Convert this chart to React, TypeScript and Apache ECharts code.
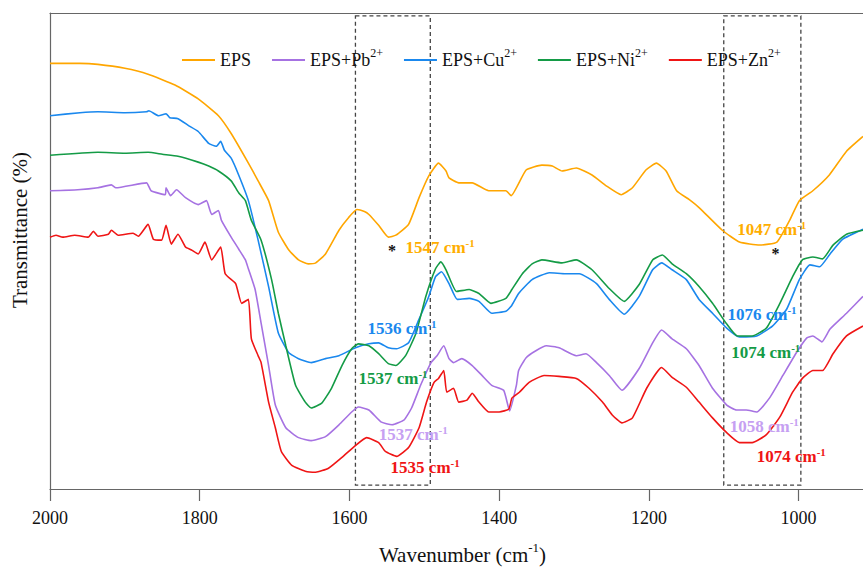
import React, { useEffect, useRef } from 'react';
import * as echarts from 'echarts';

// ---- data (wavenumber cm-1, transmittance in arbitrary offset units) ----
const SERIES_NAMES = ['EPS', 'EPS+Pb2+', 'EPS+Cu2+', 'EPS+Ni2+', 'EPS+Zn2+'];
const LEGEND_BASE = ['EPS', 'EPS+Pb', 'EPS+Cu', 'EPS+Ni', 'EPS+Zn'];
const LEGEND_SUP = ['', '2+', '2+', '2+', '2+'];
const COLORS = ['#FFA600', '#A672E2', '#1A88EE', '#149B46', '#EF1515'];
const LABEL_COLORS = ['#FFAE00', '#C6A0F2', '#1A88EE', '#149B46', '#EF1515'];
const X_TICKS = [2000, 1800, 1600, 1400, 1200, 1000];
const X_MIN = 914;
const X_MAX = 2000;
const Y_MIN = 0;
const Y_MAX = 482;
const BANDS = [[1592, 1492], [1100, 997]];
const BAND_T = [4, 479];

const EPS = [[2000,431],[1960,431],[1936,430],[1900,426],[1869,420],[1833,409],[1802,395],[1775,378],[1758,360],[1735,330],[1722,312],[1708,292],[1695,260],[1681,242],[1668,232],[1655,228],[1645,229],[1632,238],[1614,262],[1601,275],[1590,283],[1580,281],[1574,278],[1561,267],[1548,255],[1538,257],[1521,268],[1507,295],[1494,317],[1481,330],[1471,322],[1467,315],[1454,310],[1436,310],[1414,302],[1391,302],[1384,297],[1364,323],[1343,328],[1329,327],[1316,322],[1297,325],[1276,318],[1257,307],[1237,298],[1222,305],[1204,323],[1190,330],[1177,322],[1163,302],[1146,293],[1133,285],[1102,262],[1079,250],[1052,247],[1029,250],[1012,272],[999,292],[981,302],[959,318],[936,342],[914,357]];

const EPS_PB = [[2000,302],[1963,303],[1936,305],[1918,308],[1912,305],[1871,310],[1865,302],[1846,298],[1845,305],[1839,297],[1831,303],[1819,295],[1802,288],[1791,292],[1784,278],[1775,282],[1771,272],[1758,255],[1748,243],[1739,232],[1735,223],[1726,202],[1718,168],[1708,125],[1699,85],[1685,62],[1668,52],[1651,49],[1632,53],[1614,65],[1597,78],[1588,83],[1574,80],[1558,68],[1543,65],[1527,70],[1517,82],[1505,105],[1491,128],[1483,135],[1474,145],[1467,132],[1461,128],[1450,132],[1436,125],[1423,115],[1410,105],[1394,100],[1386,79],[1377,105],[1374,120],[1364,133],[1351,140],[1337,145],[1320,143],[1297,135],[1284,137],[1270,128],[1253,115],[1236,100],[1213,122],[1195,148],[1183,161],[1169,152],[1150,142],[1133,125],[1115,102],[1096,85],[1083,80],[1070,80],[1056,78],[1039,92],[1021,115],[1003,138],[989,153],[981,155],[969,149],[958,162],[936,178],[914,195]];

const EPS_CU = [[2000,378],[1960,381],[1936,382],[1900,381],[1871,382],[1868,383],[1855,378],[1845,380],[1840,376],[1829,375],[1815,368],[1802,362],[1788,350],[1778,347],[1772,352],[1767,343],[1758,335],[1748,318],[1735,292],[1722,252],[1708,205],[1695,158],[1681,138],[1668,132],[1651,128],[1632,132],[1614,135],[1592,143],[1574,147],[1561,148],[1548,143],[1537,142],[1521,148],[1507,172],[1494,195],[1485,215],[1477,220],[1467,208],[1456,192],[1440,193],[1427,190],[1410,178],[1391,180],[1384,185],[1374,198],[1356,212],[1333,219],[1311,218],[1293,218],[1270,208],[1253,192],[1233,177],[1213,195],[1195,222],[1183,229],[1169,222],[1150,212],[1133,192],[1115,178],[1096,163],[1079,154],[1056,155],[1035,165],[1016,182],[999,212],[985,227],[972,225],[958,238],[941,253],[914,263]];

const EPS_NI = [[2000,338],[1936,341],[1900,340],[1869,341],[1850,339],[1829,337],[1802,331],[1788,327],[1775,322],[1758,312],[1748,300],[1739,292],[1731,272],[1718,252],[1704,212],[1695,178],[1685,145],[1672,105],[1659,88],[1651,82],[1637,87],[1624,102],[1610,125],[1597,142],[1588,147],[1574,145],[1561,137],[1548,127],[1538,125],[1525,135],[1511,158],[1498,195],[1485,223],[1478,230],[1471,222],[1457,200],[1440,202],[1427,198],[1411,188],[1391,193],[1383,202],[1369,218],[1356,228],[1343,232],[1316,229],[1297,232],[1276,222],[1253,203],[1233,190],[1213,207],[1195,232],[1182,237],[1169,228],[1150,218],[1133,205],[1115,188],[1096,167],[1082,155],[1062,155],[1043,163],[1025,188],[1008,215],[995,232],[981,235],[968,233],[954,247],[936,258],[914,262]];

const EPS_ZN = [[2000,255],[1992,257],[1983,255],[1967,257],[1949,255],[1942,261],[1936,256],[1922,258],[1918,262],[1909,257],[1889,259],[1882,256],[1869,268],[1862,253],[1851,252],[1845,267],[1838,248],[1829,258],[1819,245],[1811,242],[1802,238],[1793,250],[1784,232],[1772,245],[1766,218],[1752,208],[1744,188],[1735,192],[1731,152],[1722,135],[1718,128],[1708,88],[1699,62],[1691,38],[1677,24],[1659,18],[1645,17],[1628,21],[1610,32],[1592,44],[1577,52],[1561,47],[1552,38],[1537,33],[1521,42],[1507,62],[1497,88],[1487,108],[1481,112],[1474,120],[1470,98],[1461,102],[1454,88],[1443,90],[1436,97],[1427,88],[1414,78],[1400,78],[1387,81],[1383,92],[1373,98],[1360,108],[1340,115],[1320,114],[1297,112],[1280,102],[1262,88],[1249,75],[1236,67],[1222,72],[1203,102],[1183,123],[1169,113],[1150,103],[1133,88],[1115,72],[1096,57],[1079,47],[1062,47],[1043,55],[1025,73],[1008,98],[995,112],[981,120],[968,120],[954,137],[936,155],[914,165]];

const SERIES_DATA = [EPS, EPS_PB, EPS_CU, EPS_NI, EPS_ZN];

// peak annotations: series index, anchor (left edge of label), wavenumber text
const PEAK_SERIES = [0, 0, 2, 3, 1, 4, 2, 3, 1, 4];
const PEAK_WN = [1525, 1082, 1576, 1588, 1561, 1545, 1095, 1090, 1092, 1056];
const PEAK_T = [245, 263, 163, 112, 55, 22, 177, 138, 63, 33];
const PEAK_TEXT = ['1547', '1047', '1536', '1537', '1537', '1535', '1076', '1074', '1058', '1074'];
const STAR_WN = [1543, 1031];
const STAR_T = [242, 238];

const FONT = "'Liberation Serif', 'Times New Roman', serif";

export default function App() {
  const ref = useRef<HTMLDivElement>(null);
  useEffect(() => {
    if (!ref.current) return;
    const chart = echarts.init(ref.current, null, { renderer: 'svg' });

    const series: any[] = SERIES_NAMES.map((name, i) => {
      const peaks = PEAK_SERIES.map((s, k) => ({ s, k })).filter((p) => p.s === i).map(({ k }) => ({
        coord: [PEAK_WN[k], PEAK_T[k]],
        label: {
          show: true,
          position: 'inside',
          align: 'left',
          verticalAlign: 'middle',
          formatter: PEAK_TEXT[k] + ' cm{sup|-1}',
          color: LABEL_COLORS[i],
          fontFamily: FONT,
          fontWeight: 'bold',
          fontSize: 17,
          rich: {
            sup: { fontSize: 11, fontWeight: 'bold', fontFamily: FONT, color: LABEL_COLORS[i], padding: [0, 0, 9, 0] },
          },
        },
      }));
      const stars = i === 0 ? STAR_WN.map((w, k) => ({
        coord: [w, STAR_T[k]],
        label: { show: true, position: 'inside', formatter: '*', color: '#111', fontSize: 16, fontFamily: FONT, fontWeight: 'bold' },
      })) : [];
      const s: any = {
        name,
        type: 'line',
        data: SERIES_DATA[i],
        symbol: 'none',
        smooth: 0.15,
        lineStyle: { color: COLORS[i], width: 1.6 },
        itemStyle: { color: COLORS[i] },
        z: 2 + i,
        markPoint: {
          symbol: 'rect',
          symbolSize: 1,
          itemStyle: { color: 'rgba(0,0,0,0)' },
          data: [...peaks, ...stars],
          z: 10,
        },
      };
      if (i === 0) {
        s.markArea = {
          silent: true,
          itemStyle: { color: 'rgba(0,0,0,0)', borderColor: '#444', borderWidth: 1.3, borderType: [4, 3] },
          data: BANDS.map((b) => [
            { xAxis: b[0], yAxis: BAND_T[1] },
            { xAxis: b[1], yAxis: BAND_T[0] },
          ]),
        };
      }
      return s;
    });

    const option: any = {
      animation: false,
      backgroundColor: '#fff',
      grid: { left: 50, right: 0, top: 13, bottom: 75, containLabel: false },
      legend: {
        data: SERIES_NAMES.map((n) => ({ name: n, icon: 'rect' })),
        left: 177,
        top: 42,
        itemWidth: 33,
        itemHeight: 2,
        itemGap: 21,
        formatter: (name: string) => {
          const i = SERIES_NAMES.indexOf(name);
          return LEGEND_SUP[i] ? LEGEND_BASE[i] + '{sup|' + LEGEND_SUP[i] + '}' : LEGEND_BASE[i];
        },
        textStyle: {
          fontFamily: FONT,
          fontSize: 18,
          color: '#111',
          rich: {
            sup: { fontFamily: FONT, fontSize: 12, color: '#111', padding: [0, 0, 14, 0] },
          },
        },
      },
      xAxis: [
        {
          type: 'value',
          inverse: true,
          min: X_MIN,
          max: X_MAX,
          name: 'Wavenumber (cm{sup|-1})',
          nameLocation: 'middle',
          nameGap: 52,
          nameTextStyle: {
            fontFamily: FONT,
            fontSize: 21,
            color: '#111',
            padding: [0, 0, 0, 12],
            rich: { sup: { fontFamily: FONT, fontSize: 13, color: '#111', padding: [0, 0, 14, 0] } },
          },
          axisLine: { show: true, lineStyle: { color: '#666', width: 1.2 } },
          axisTick: { show: true, length: 12, lineStyle: { color: '#666', width: 1.2 }, customValues: X_TICKS },
          axisLabel: {
            fontFamily: FONT,
            fontSize: 18,
            color: '#111',
            margin: 20,
            customValues: X_TICKS,
            formatter: (v: number) => String(v),
          },
          splitLine: { show: false },
        },
        {
          type: 'value',
          inverse: true,
          min: X_MIN,
          max: X_MAX,
          position: 'top',
          axisLine: { show: true, lineStyle: { color: '#666', width: 1.2 } },
          axisTick: { show: false },
          axisLabel: { show: false },
          splitLine: { show: false },
        },
      ],
      yAxis: {
        type: 'value',
        min: Y_MIN,
        max: Y_MAX,
        name: 'Transmittance (%)',
        nameLocation: 'middle',
        nameGap: 20,
        nameTextStyle: { fontFamily: FONT, fontSize: 21, color: '#111', padding: [0, 0, 0, 42] },
        axisLine: { show: true, lineStyle: { color: '#666', width: 1.2 } },
        axisTick: { show: false },
        axisLabel: { show: false },
        splitLine: { show: false },
      },
      series,
    };
    chart.setOption(option);
    return () => chart.dispose();
  }, []);
  return <div ref={ref} style={{ position: 'fixed', left: 0, top: 0, width: 863, height: 570 }} />;
}
